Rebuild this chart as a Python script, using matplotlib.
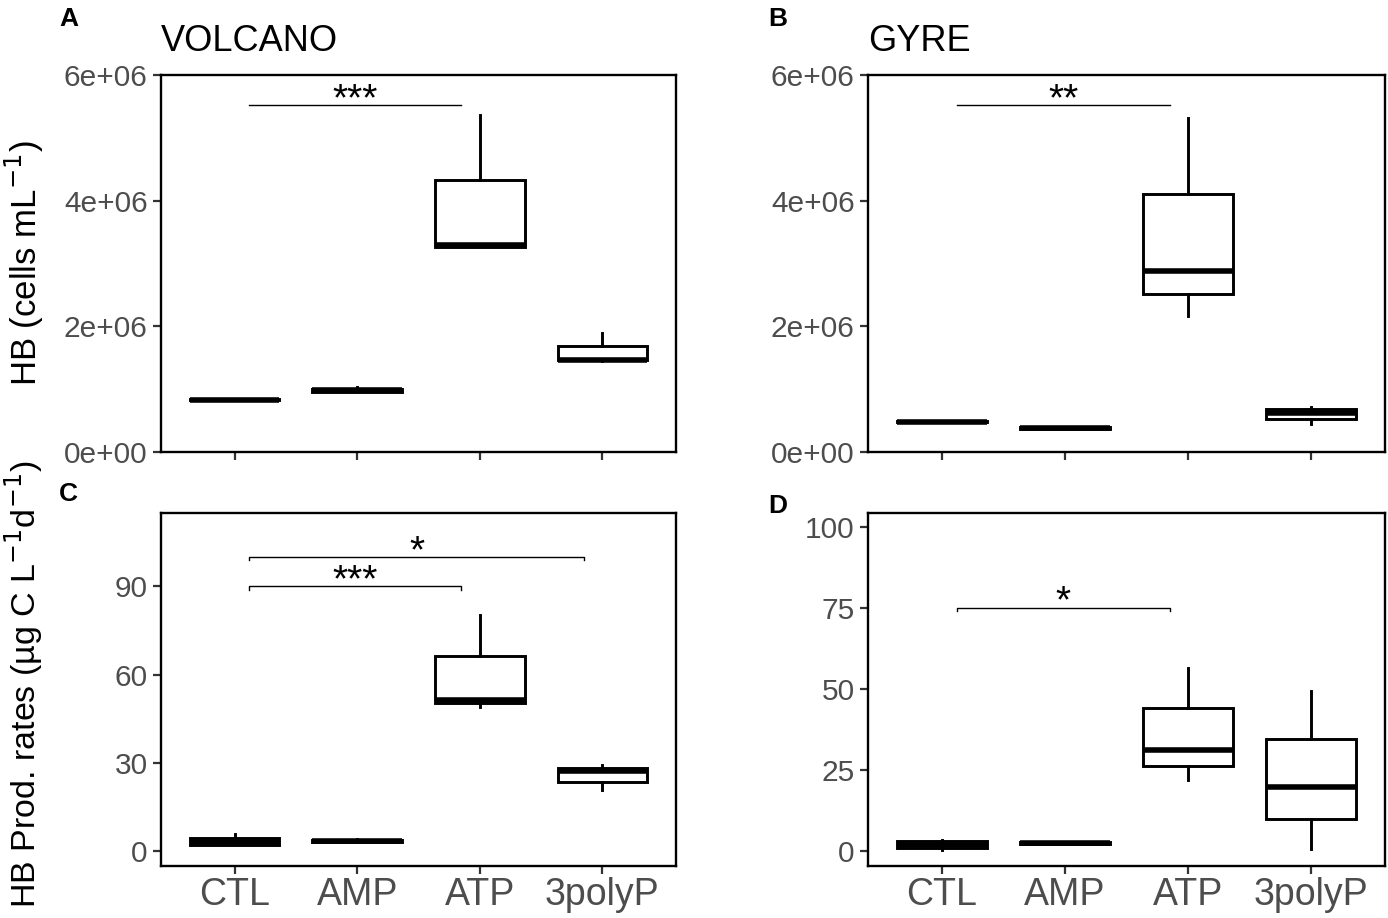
import matplotlib
matplotlib.use("Agg")
import matplotlib.pyplot as plt

plt.rcParams['font.family'] = ['Liberation Sans', 'DejaVu Sans']

cats = ["CTL", "AMP", "ATP", "3polyP"]

# Panel A: VOLCANO HB (cells mL-1)
a_low = [0.82e6, 0.96e6, 3.26e6, 1.45e6]
a_q1 = [0.82e6, 0.96e6, 3.27e6, 1.46e6]
a_med = [0.83e6, 0.98e6, 3.29e6, 1.47e6]
a_q3 = [0.84e6, 1.00e6, 4.33e6, 1.68e6]
a_high = [0.84e6, 1.04e6, 5.36e6, 1.89e6]

# Panel B: GYRE HB (cells mL-1)
b_low = [0.47e6, 0.37e6, 2.17e6, 0.45e6]
b_q1 = [0.47e6, 0.37e6, 2.52e6, 0.53e6]
b_med = [0.48e6, 0.38e6, 2.88e6, 0.62e6]
b_q3 = [0.49e6, 0.39e6, 4.11e6, 0.68e6]
b_high = [0.49e6, 0.39e6, 5.32e6, 0.72e6]

# Panel C: VOLCANO HB production rates
c_low = [2.0, 2.9, 49.0, 20.7]
c_q1 = [2.2, 3.0, 50.2, 23.6]
c_med = [3.0, 3.3, 51.3, 27.2]
c_q3 = [4.3, 3.6, 66.5, 28.4]
c_high = [5.8, 4.2, 80.2, 29.2]

# Panel D: GYRE HB production rates
d_low = [0.2, 2.2, 21.9, 0.7]
d_q1 = [0.9, 2.3, 26.3, 10.0]
d_med = [1.8, 2.5, 31.2, 19.6]
d_q3 = [3.1, 2.7, 44.1, 34.6]
d_high = [3.5, 2.8, 56.5, 49.2]

# significance brackets: (group1, group2, y, label)
sig_a = [(1, 3, 5.52e6, "***")]
sig_b = [(1, 3, 5.52e6, "**")]
sig_c = [(1, 3, 90, "***"), (1, 4, 100, "*")]
sig_d = [(1, 3, 75, "*")]

W, H = 1388, 918
fig = plt.figure(figsize=(W / 100, H / 100), dpi=100)


def rect(l, r, t, b):
    return [l / W, (H - b) / H, (r - l) / W, (b - t) / H]


axA = fig.add_axes(rect(161, 676, 75, 452))
axB = fig.add_axes(rect(868, 1385, 75, 452))
axC = fig.add_axes(rect(161, 676, 513, 866))
axD = fig.add_axes(rect(868, 1385, 513, 866))


def draw(ax, low, q1, med, q3, high, sigs, ylim, yticks, yticklabels, tips):
    stats = []
    for i in range(len(cats)):
        stats.append(dict(whislo=low[i], q1=q1[i], med=med[i], q3=q3[i],
                          whishi=high[i], fliers=[], label=cats[i]))
    ax.bxp(stats, positions=range(1, len(cats) + 1), widths=0.73,
           showcaps=False, showfliers=False, patch_artist=True,
           boxprops=dict(facecolor='white', edgecolor='black', linewidth=2.1),
           whiskerprops=dict(color='black', linewidth=2.1),
           medianprops=dict(color='black', linewidth=4.0, solid_capstyle='butt'))
    ax.set_xlim(0.4, 4.6)
    ax.set_ylim(*ylim)
    ax.set_yticks(yticks)
    ax.set_yticklabels(yticklabels)
    ax.set_xticks(range(1, len(cats) + 1))
    ax.set_xticklabels(cats)
    for s in ax.spines.values():
        s.set_linewidth(1.7)
        s.set_color('black')
    ax.tick_params(axis='both', length=6, width=1.6, color='#333333')
    ax.tick_params(axis='y', labelsize=21.5, labelcolor='#4d4d4d', pad=3.5)
    ax.tick_params(axis='x', labelsize=27, labelcolor='#4d4d4d', pad=2)
    span = ylim[1] - ylim[0]
    for (g1, g2, y, lab) in sigs:
        x1 = g1 + 0.12
        x2 = g2 - 0.15
        if tips:
            t = span * 0.009
            ax.plot([x1, x1, x2, x2], [y - t, y, y, y - t], color='black', lw=1.0)
        else:
            ax.plot([x1, x2], [y, y], color='black', lw=1.0)
        ax.annotate(lab, xy=((x1 + x2) / 2, y), xytext=(0, -3.5),
                    textcoords='offset points', ha='center', va='baseline',
                    fontsize=28)


draw(axA, a_low, a_q1, a_med, a_q3, a_high, sig_a, (0, 6e6),
     [0, 2e6, 4e6, 6e6], ["0e+00", "2e+06", "4e+06", "6e+06"], False)
draw(axB, b_low, b_q1, b_med, b_q3, b_high, sig_b, (0, 6e6),
     [0, 2e6, 4e6, 6e6], ["0e+00", "2e+06", "4e+06", "6e+06"], False)
draw(axC, c_low, c_q1, c_med, c_q3, c_high, sig_c, (-5.1, 115),
     [0, 30, 60, 90], ["0", "30", "60", "90"], True)
draw(axD, d_low, d_q1, d_med, d_q3, d_high, sig_d, (-4.6, 104.2),
     [0, 25, 50, 75, 100], ["0", "25", "50", "75", "100"], True)

for ax in (axA, axB):
    ax.set_xticklabels([])

axA.set_title("VOLCANO", loc='left', fontsize=26, pad=17)
axB.set_title("GYRE", loc='left', fontsize=26, pad=17)

fig.text(24 / W, 1 - 263 / H, "HB (cells mL$^{-1}$)", rotation=90,
         ha='center', va='center', fontsize=25)
fig.text(24 / W, 1 - 684 / H, "HB Prod. rates (µg C L$^{-1}$d$^{-1}$)", rotation=90,
         ha='center', va='center', fontsize=24.5)

for lab, x, y in (("A", 59, 7), ("B", 768, 7), ("C", 59, 482), ("D", 768, 494)):
    fig.text(x / W, 1 - y / H, lab, ha='left', va='top', fontsize=19,
             fontweight='bold')

fig.savefig("out.png", dpi=100)
